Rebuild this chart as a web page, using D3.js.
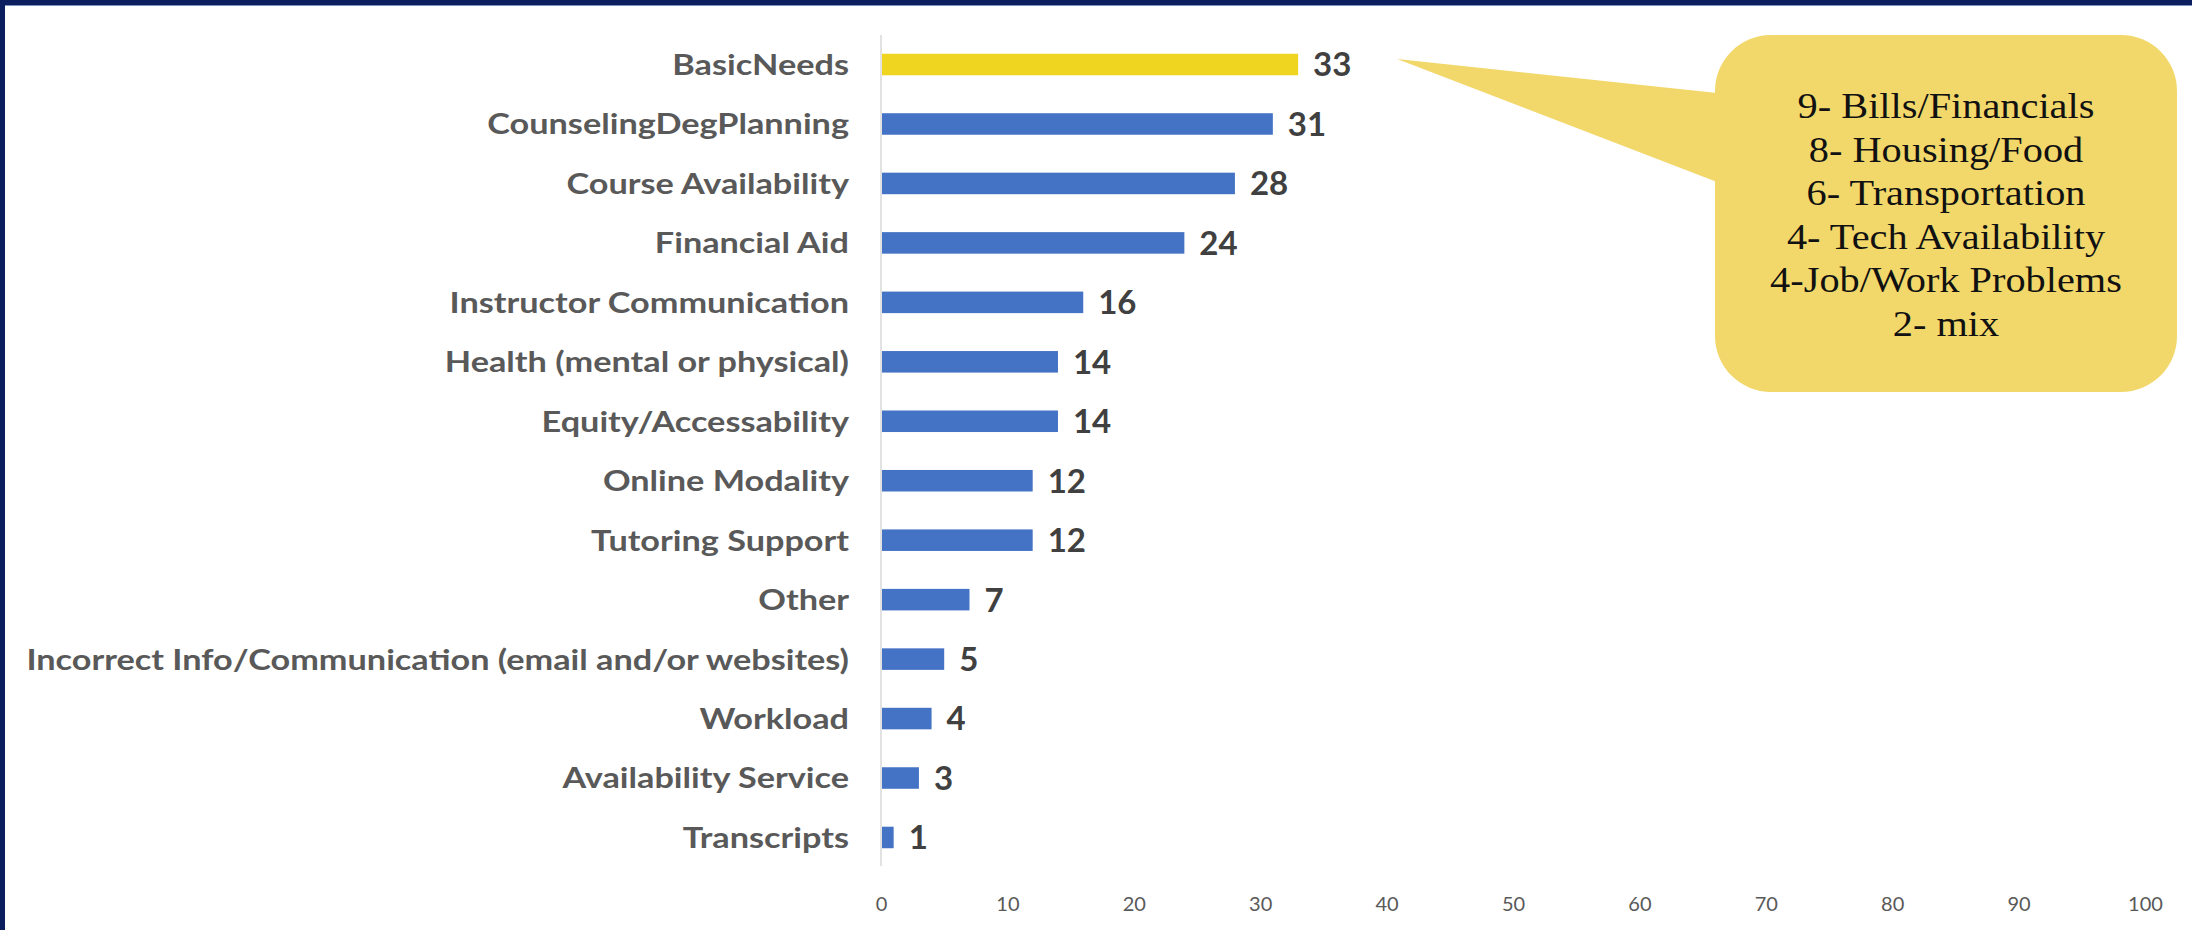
<!DOCTYPE html>
<html>
<head>
<meta charset="utf-8">
<script src="https://cdn.jsdelivr.net/npm/d3@7"></script>
<style>
  html, body { margin: 0; padding: 0; background: #ffffff; }
  svg { display: block; }
</style>
</head>
<body>
<svg id="chart" width="2192" height="930"></svg>
<script>
// ---- data ----
const categories = [
  "BasicNeeds",
  "CounselingDegPlanning",
  "Course Availability",
  "Financial Aid",
  "Instructor Communication",
  "Health (mental or physical)",
  "Equity/Accessability",
  "Online Modality",
  "Tutoring Support",
  "Other",
  "Incorrect Info/Communication (email and/or websites)",
  "Workload",
  "Availability Service",
  "Transcripts"
];
const values = [33, 31, 28, 24, 16, 14, 14, 12, 12, 7, 5, 4, 3, 1];
const highlighted = ["BasicNeeds"];
const tickValues = [0, 10, 20, 30, 40, 50, 60, 70, 80, 90, 100];
const calloutLines = [
  "9- Bills/Financials",
  "8- Housing/Food",
  "6- Transportation",
  "4- Tech Availability",
  "4-Job/Work Problems",
  "2- mix"
];

// ---- layout ----
const W = 2192, H = 930;
const svg = d3.select("#chart");

const x = d3.scaleLinear().domain([0, 100]).range([881, 2145]);
const y = d3.scaleBand().domain(categories).range([34.8, 867.2])
  .paddingInner(0.638).paddingOuter(0.319);

// frame
svg.append("rect").attr("x", 0).attr("y", 0).attr("width", W).attr("height", 5).attr("fill", "#0b1f5e");
svg.append("rect").attr("x", 0).attr("y", 5).attr("width", W).attr("height", 1).attr("fill", "#7d93c0");
svg.append("rect").attr("x", 0).attr("y", 0).attr("width", 5).attr("height", H).attr("fill", "#0b1f5e");

// vertical axis line at 0
svg.append("line")
  .attr("x1", x(0)).attr("x2", x(0))
  .attr("y1", 35).attr("y2", 866)
  .attr("stroke", "#d9d9d9").attr("stroke-width", 1.5);

// bars
svg.append("g").selectAll("rect").data(categories).join("rect")
  .attr("x", x(0) + 1)
  .attr("y", d => y(d))
  .attr("width", (d, i) => x(values[i]) - x(0) - 1)
  .attr("height", y.bandwidth())
  .attr("fill", d => highlighted.includes(d) ? "#EFD51F" : "#4472C4");

// value labels
svg.append("g").selectAll("text").data(categories).join("text")
  .attr("x", (d, i) => x(values[i]) + 15)
  .attr("y", d => y(d) + y.bandwidth() / 2)
  .attr("dy", "0.36em")
  .attr("font-family", "Lato, 'Open Sans', sans-serif")
  .attr("font-weight", "bold")
  .attr("font-size", 33)
  .attr("fill", "#404040")
  .text((d, i) => values[i]);

// category labels (fit to width)
const labelG = svg.append("g");
const labels = labelG.selectAll("text").data(categories).join("text")
  .attr("text-anchor", "end")
  .attr("font-family", "Lato, 'Open Sans', sans-serif")
  .attr("font-weight", "bold")
  .attr("font-size", 29)
  .attr("fill", "#595959")
  .attr("dy", "0.36em")
  .text(d => d);
let maxW = 0;
labels.each(function() { maxW = Math.max(maxW, this.getComputedTextLength()); });
const sx = 823 / maxW;
labels.attr("transform", d => `translate(849,${y(d) + y.bandwidth() / 2}) scale(${sx},1)`);

// x axis tick labels
const axis = d3.axisBottom(x).tickValues(tickValues).tickSize(0).tickPadding(0);
const ax = svg.append("g").attr("transform", "translate(0,897)").call(axis);
ax.select(".domain").remove();
ax.selectAll("text")
  .attr("font-family", "Lato, 'Open Sans', sans-serif")
  .attr("font-size", 20)
  .attr("fill", "#595959");

// callout
const box = { x0: 1715, y0: 35, x1: 2177, y1: 392, r: 56 };
const cg = svg.append("g");
cg.append("path")
  .attr("d", `M${x(values[0]) + 99},59 L${box.x0 + 2},93 L${box.x0 + 2},182 Z`)
  .attr("fill", "#F2D86A");
cg.append("rect")
  .attr("x", box.x0).attr("y", box.y0)
  .attr("width", box.x1 - box.x0).attr("height", box.y1 - box.y0)
  .attr("rx", box.r).attr("ry", box.r)
  .attr("fill", "#F2D86A");
const cx = (box.x0 + box.x1) / 2;
const ctext = cg.selectAll("text.c").data(calloutLines).join("text")
  .attr("class", "c")
  .attr("text-anchor", "middle")
  .attr("font-family", "'Liberation Serif', 'DejaVu Serif', serif")
  .attr("font-size", 35)
  .attr("fill", "#111111")
  .attr("dy", "0.35em")
  .text(d => d);
let cmax = 0;
ctext.each(function() { cmax = Math.max(cmax, this.getComputedTextLength()); });
const csx = 352 / cmax;
ctext.attr("transform", (d, i) => `translate(${cx},${106 + i * 43.5}) scale(${csx},1)`);
</script>
</body>
</html>
